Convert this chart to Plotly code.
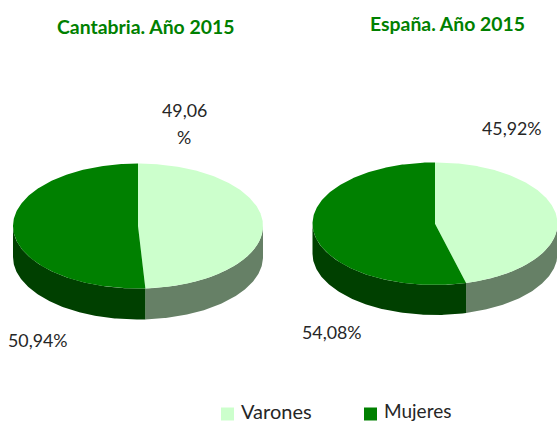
import numpy as np
import plotly.graph_objects as go

regions = ["Cantabria. Año 2015", "España. Año 2015"]
varones = [49.06, 45.92]
mujeres = [50.94, 54.08]
labels_varones = ["49,06<br>%", "45,92%"]
labels_mujeres = ["50,94%", "54,08%"]
series_names = ["Varones", "Mujeres"]

LIGHT, DARK = "#CCFFCC", "#008000"
LIGHT_SIDE, DARK_SIDE = "#668066", "#004000"
FONT = "Lato"
TEXT = "#262626"

# pie geometry in pixel-like axis units
geom = [dict(cx=138, cy=226, a=125, b=62.5, d=31), dict(cx=435, cy=223.7, a=122.5, b=61.3, d=30)]


def rim(g, t0, t1, n=120):
    t = np.radians(np.linspace(t0, t1, n))
    return g["cx"] + g["a"] * np.sin(t), g["cy"] - g["b"] * np.cos(t)


def poly(fig, x, y, color):
    fig.add_trace(go.Scatter(x=list(x), y=list(y), mode="lines", fill="toself", fillcolor=color,
                             line=dict(width=0, color=color), hoverinfo="skip", showlegend=False,
                             cliponaxis=False))


fig = go.Figure()
for g, v in zip(geom, varones):
    split = v / 100 * 360
    # walls: only the front half of the rim is visible
    for t0, t1, c in [(90, split, LIGHT_SIDE), (split, 270, DARK_SIDE)]:
        x, y = rim(g, t0, t1)
        poly(fig, np.r_[x, x[::-1]], np.r_[y, y[::-1] + g["d"]], c)
    # top faces
    for t0, t1, c in [(0, split, LIGHT), (split, 360, DARK)]:
        x, y = rim(g, t0, t1, 240)
        poly(fig, np.r_[g["cx"], x, g["cx"]], np.r_[g["cy"], y, g["cy"]], c)

ann = []
# legend keys, placed so that swatch and text sit where the reference has them
for name, c, lx, tx, sz in zip(series_names, [LIGHT, DARK], [227.5, 370.5], [239, 382], [20, 19]):
    fig.add_trace(go.Scatter(x=[lx], y=[414], mode="markers", name=name, cliponaxis=False,
                             showlegend=False, marker=dict(symbol="square", size=13, color=c)))
    ann.append(dict(x=tx, y=410.5, text=name, xanchor="left",
                    font=dict(size=sz, color=TEXT, family=FONT)))

for txt, x, y in zip(regions, [145, 447], [26.5, 23.5]):
    ann.append(dict(x=x, y=y, text=f"<b>{txt}</b>", font=dict(size=19.4, color=DARK, family=FONT)))

label_pos = zip(labels_varones + labels_mujeres, [184, 512, 38, 332], [110, 128, 340, 332])
for txt, x, y in label_pos:
    for i, line in enumerate(txt.split("<br>")):
        ann.append(dict(x=x, y=y + 27 * i, text=line, font=dict(size=17.8, color=TEXT, family=FONT)))

for a in ann:
    a.setdefault("xanchor", "center")
    a.update(showarrow=False, xref="x", yref="y", yanchor="middle", align="center")

fig.update_layout(
    width=557, height=423, margin=dict(l=0, r=0, t=0, b=0),
    paper_bgcolor="white", plot_bgcolor="white",
    xaxis=dict(range=[0, 557], visible=False, fixedrange=True),
    yaxis=dict(range=[423, 0], visible=False, fixedrange=True),
    annotations=ann,
    showlegend=False,
)
fig.write_html("out.html", config=dict(displayModeBar=False),
               post_script="document.body.style.margin='0';document.documentElement.style.overflow='hidden';")
